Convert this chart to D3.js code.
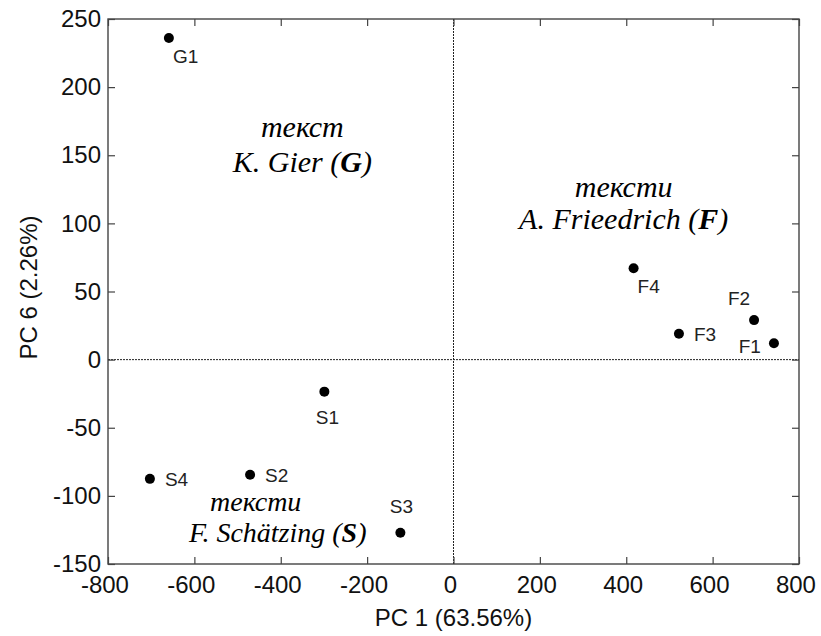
<!DOCTYPE html>
<html>
<head>
<meta charset="utf-8">
<script src="https://cdn.jsdelivr.net/npm/d3@7"></script>
<style>
  body { margin: 0; background: #fff; }
  svg { display: block; }
</style>
</head>
<body>
<svg id="chart"></svg>
<script>
// sample names, PC1 and PC6 scores
const names = ["G1", "S1", "S2", "S3", "S4", "F1", "F2", "F3", "F4"];
const pc1 = [-659, -299, -471, -123, -703, 742, 696, 522, 417];
const pc6 = [236, -23.5, -84.5, -127, -87.5, 12, 29, 19, 67];
// where the label sits relative to its dot
const labelPos = ["br", "below", "right", "above", "right", "left", "aboveLeft", "right", "br"];

const xTicks = [-800, -600, -400, -200, 0, 200, 400, 600, 800];
const yTicks = [-150, -100, -50, 0, 50, 100, 150, 200, 250];

const W = 821, H = 636;
const margin = { top: 19, right: 22, bottom: 72, left: 108 };

const svg = d3.select("#chart").attr("width", W).attr("height", H);

const x = d3.scaleLinear().domain([-800, 800]).range([margin.left, W - margin.right]);
const y = d3.scaleLinear().domain([-150, 250]).range([H - margin.bottom, margin.top]);

const axisColor = "#444";
const sansFont = "Liberation Sans, Arial, sans-serif";

// box
svg.append("rect")
    .attr("x", x(-800)).attr("y", y(250))
    .attr("width", x(800) - x(-800)).attr("height", y(-150) - y(250))
    .attr("fill", "none").attr("stroke", axisColor).attr("stroke-width", 1.4);

// zero lines
svg.append("line")
    .attr("x1", x(0)).attr("x2", x(0)).attr("y1", y(250)).attr("y2", y(-150))
    .attr("stroke", "#222").attr("stroke-width", 1).attr("stroke-dasharray", "2,1");
svg.append("line")
    .attr("x1", x(-800)).attr("x2", x(800)).attr("y1", y(0)).attr("y2", y(0))
    .attr("stroke", "#222").attr("stroke-width", 1).attr("stroke-dasharray", "2,1");

// axes (ticks inward), plain hyphen for minus
const tickLen = 7;
const fmt = d => String(d);
const bottomAxis = svg.append("g")
    .attr("transform", `translate(0,${y(-150)})`)
    .call(d3.axisBottom(x).tickValues(xTicks).tickFormat(fmt).tickSizeInner(-tickLen).tickSizeOuter(0).tickPadding(12));
const topAxis = svg.append("g")
    .attr("transform", `translate(0,${y(250)})`)
    .call(d3.axisTop(x).tickValues(xTicks).tickSizeInner(-tickLen).tickSizeOuter(0).tickFormat(""));
const leftAxis = svg.append("g")
    .attr("transform", `translate(${x(-800)},0)`)
    .call(d3.axisLeft(y).tickValues(yTicks).tickFormat(fmt).tickSizeInner(-tickLen).tickSizeOuter(0).tickPadding(7));
const rightAxis = svg.append("g")
    .attr("transform", `translate(${x(800)},0)`)
    .call(d3.axisRight(y).tickValues(yTicks).tickSizeInner(-tickLen).tickSizeOuter(0).tickFormat(""));

[bottomAxis, topAxis, leftAxis, rightAxis].forEach(g => {
    g.select(".domain").remove();
    g.selectAll(".tick line").attr("stroke", axisColor).attr("stroke-width", 1.2);
    g.selectAll(".tick text")
        .attr("fill", "#111")
        .style("font-family", sansFont)
        .style("font-size", "24px");
});
bottomAxis.selectAll(".tick text").attr("dx", "-0.15em");

// axis titles
svg.append("text")
    .attr("x", x(0)).attr("y", 626)
    .attr("text-anchor", "middle")
    .style("font-family", sansFont).style("font-size", "24px").attr("fill", "#111")
    .text("PC 1 (63.56%)");
svg.append("text")
    .attr("transform", `translate(37,${(y(250) + y(-150)) / 2 - 4}) rotate(-90)`)
    .attr("text-anchor", "middle")
    .style("font-family", sansFont).style("font-size", "24px").attr("fill", "#111")
    .text("PC 6 (2.26%)");

// points
const pts = names.map((n, i) => ({ name: n, x: pc1[i], y: pc6[i], pos: labelPos[i] }));

svg.append("g").selectAll("circle")
    .data(pts)
    .enter()
    .append("circle")
    .attr("cx", d => x(d.x))
    .attr("cy", d => y(d.y))
    .attr("r", 5)
    .attr("fill", "#000");

const offsets = {
    br: [4, 25, "start"],
    below: [3, 32, "middle"],
    right: [15, 7, "start"],
    above: [1, -20, "middle"],
    left: [-13, 10, "end"],
    aboveLeft: [-15, -15, "middle"]
};

svg.append("g").selectAll("text")
    .data(pts)
    .enter()
    .append("text")
    .attr("x", d => x(d.x) + offsets[d.pos][0])
    .attr("y", d => y(d.y) + offsets[d.pos][1])
    .attr("text-anchor", d => offsets[d.pos][2])
    .style("font-family", sansFont).style("font-size", "19px").attr("fill", "#222")
    .text(d => d.name);

// group annotations (italic serif, with bold letter)
const noteFont = "Liberation Serif, 'Times New Roman', serif";
function note(cx, baseline1, gap, size, word, pre, bold, post, shift2) {
    svg.append("text")
        .attr("x", cx).attr("y", baseline1)
        .attr("text-anchor", "middle")
        .style("font-family", noteFont).style("font-style", "italic").style("font-size", size + "px")
        .text(word);
    const t = svg.append("text")
        .attr("x", cx + shift2).attr("y", baseline1 + gap)
        .attr("text-anchor", "middle")
        .style("font-family", noteFont).style("font-style", "italic").style("font-size", size + "px");
    t.append("tspan").text(pre);
    t.append("tspan").style("font-weight", "bold").text(bold);
    t.append("tspan").text(post);
}

note(x(-350), 137, 35, 30, "текст", "K. Gier (", "G", ")", 0);
note(x(394), 197, 32, 30, "тексти", "A. Frieedrich (", "F", ")", 0);
note(x(-458), 511, 31, 28, "тексти", "F. Schätzing (", "S", ")", 22);
</script>
</body>
</html>
